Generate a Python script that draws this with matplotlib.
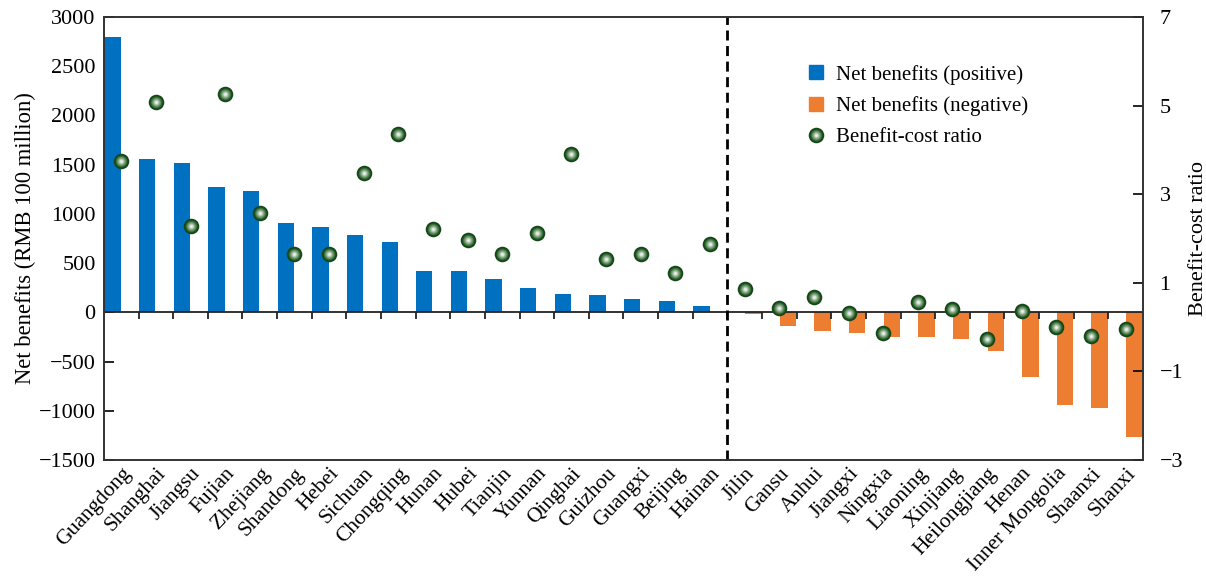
import numpy as np
import matplotlib
matplotlib.use("Agg")
import matplotlib.pyplot as plt
from matplotlib.lines import Line2D
from matplotlib.legend_handler import HandlerTuple
from matplotlib.colors import to_rgb

plt.rcParams['font.family'] = ['Liberation Serif', 'DejaVu Serif']
plt.rcParams['font.size'] = 16

pos_provinces = ["Guangdong", "Shanghai", "Jiangsu", "Fujian", "Zhejiang", "Shandong",
                 "Hebei", "Sichuan", "Chongqing", "Hunan", "Hubei", "Tianjin", "Yunnan",
                 "Qinghai", "Guizhou", "Guangxi", "Beijing", "Hainan"]
neg_provinces = ["Jilin", "Gansu", "Anhui", "Jiangxi", "Ningxia", "Liaoning", "Xinjiang",
                 "Heilongjiang", "Henan", "Inner Mongolia", "Shaanxi", "Shanxi"]

pos_benefits = [2800, 1555, 1512, 1276, 1232, 904, 868, 789, 714, 416, 416, 342, 247,
                186, 179, 135, 115, 60]
neg_benefits = [-22, -138, -187, -213, -248, -248, -268, -390, -660, -940, -968, -1265]

ratio_pos = [3.75, 5.08, 2.29, 5.26, 2.57, 1.65, 1.65, 3.47, 4.36, 2.22, 1.96, 1.66,
             2.13, 3.91, 1.53, 1.65, 1.23, 1.87]
ratio_neg = [0.87, 0.44, 0.68, 0.31, -0.13, 0.56, 0.41, -0.27, 0.37, 0.0, -0.2, -0.05]

left_ticks = list(range(-1500, 3001, 500))
right_ticks = [-3, -1, 1, 3, 5, 7]

BLUE = '#0070C0'
ORANGE = '#ED7D31'

provinces = pos_provinces + neg_provinces
ratios = ratio_pos + ratio_neg
n_pos = len(pos_provinces)
n = len(provinces)
x_pos = np.arange(n_pos)
x_neg = np.arange(n_pos, n)
x_all = np.arange(n)

fig = plt.figure(figsize=(12.06, 5.76), dpi=100)
ax = fig.add_axes([0.0862, 0.2014, 0.8615, 0.7691])

bw = 0.47
ax.bar(x_pos - 0.25, pos_benefits, width=bw, color=BLUE, zorder=2)
ax.bar(x_neg + 0.25, neg_benefits, width=bw, color=ORANGE, zorder=2)

ax.set_xlim(-0.5, n - 0.5)
ax.set_ylim(left_ticks[0], left_ticks[-1])
ax.set_yticks(left_ticks)
ax.set_yticklabels([str(t).replace('-', '\u2212') for t in left_ticks])
ax.tick_params(axis='y', direction='in', length=7, width=1.2, pad=6, labelsize=16)
ax.set_xticks(x_all)
ax.set_xticklabels(provinces, rotation=47, ha='right', va='top', rotation_mode='anchor',
                   fontsize=15.5)
ax.tick_params(axis='x', length=0, pad=3)
ax.set_ylabel('Net benefits (RMB 100 million)', fontsize=16.3, labelpad=2)

# zero line with downward ticks at slot boundaries
ax.axhline(0, color='#222222', lw=1.3, zorder=3)
bounds = np.arange(0.5, n - 0.5, 1.0)
ax.plot(bounds, np.zeros_like(bounds), linestyle='none', marker=3, markersize=5,
        markeredgewidth=1.3, color='#222222', zorder=3, clip_on=False)

# dashed separator
ax.axvline(n_pos - 0.5, color='black', lw=2, linestyle=(0, (3.6, 2.0)), zorder=3)

for s in ax.spines.values():
    s.set_linewidth(1.2)
    s.set_color('#333333')

ax2 = ax.twinx()
ax2.set_ylim(right_ticks[0], right_ticks[-1])
ax2.set_yticks(right_ticks)
ax2.set_yticklabels([str(t).replace('-', '\u2212') for t in right_ticks])
ax2.tick_params(axis='y', direction='in', length=7, width=1.2, pad=12, labelsize=16)
ax2.set_ylabel('Benefit-cost ratio', fontsize=16)
ax2.yaxis.set_label_coords(1.044, 0.5)
for s in ax2.spines.values():
    s.set_linewidth(1.2)
    s.set_color('#333333')

# shaded sphere markers
dark = np.array(to_rgb('#15461a'))
mid = np.array(to_rgb('#2c662c'))
light = np.array([0.93, 0.95, 0.93])
diams = [11.2, 8.6, 7.2, 5.8, 4.4, 3.1, 1.8]
cols = []
for i, d in enumerate(diams):
    if i == 0:
        c = dark
    else:
        t = (i - 1) / (len(diams) - 2)
        c = mid * (1 - t) + light * t
    cols.append(c)
    ax2.scatter(x_all, ratios, s=d ** 2, color=c, linewidths=0, zorder=5 + i)

# legend
h1 = Line2D([], [], linestyle='none', marker='s', markersize=10, color=BLUE)
h2 = Line2D([], [], linestyle='none', marker='s', markersize=10, color=ORANGE)
h3 = tuple(Line2D([], [], linestyle='none', marker='o', markersize=d, color=c,
                  markeredgewidth=0) for d, c in zip(diams, cols))
ax2.legend([h1, h2, h3], ['Net benefits (positive)', 'Net benefits (negative)',
                          'Benefit-cost ratio'],
           handler_map={tuple: HandlerTuple(ndivide=1, pad=0)},
           loc='upper left', bbox_to_anchor=(0.662, 0.925), frameon=False,
           fontsize=15, handlelength=0.9, handletextpad=0.5, labelspacing=0.55,
           borderpad=0.2)

fig.savefig('out.png', dpi=100)
